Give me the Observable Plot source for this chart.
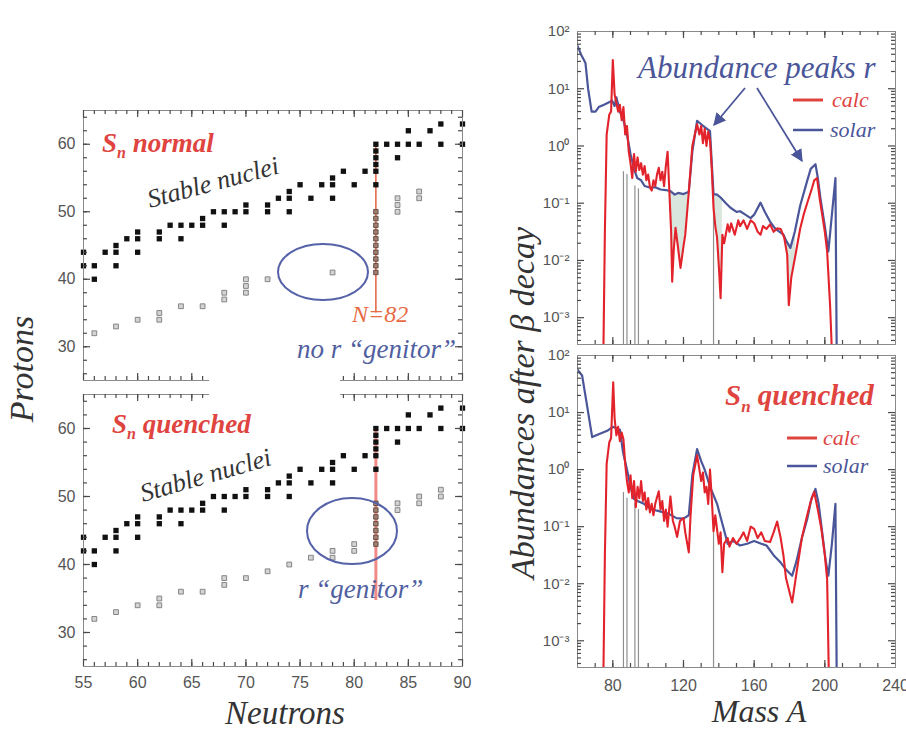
<!DOCTYPE html>
<html><head><meta charset="utf-8">
<script src="https://cdn.jsdelivr.net/npm/d3@7"></script>
<script src="https://cdn.jsdelivr.net/npm/@observablehq/plot@0.6"></script>
<style>
body{margin:0;background:#fff;}
#wrap{position:relative;width:906px;height:733px;overflow:hidden;background:#fff;}
.panel{position:absolute;}
.panel svg{overflow:visible;}
#overlay{position:absolute;left:0;top:0;pointer-events:none;}
</style></head><body><div id="wrap"></div>
<script>
// ---------- Left panels: chart of nuclides (Neutrons N, Protons Z) ----------
const stableN = [55,55,56,56,57,58,58,58,59,60,60,60,62,62,63,64,64,65,66,66,67,68,68,69,70,70,72,72,73,74,74,74,75,76,77,78,78,78,79,80,81,82,82,82,82,82,82,83,84,84,85,85,86,87,88,88,90,90];
const stableZ = [44,42,42,40,44,45,44,42,46,47,46,44,47,46,48,48,46,48,49,48,50,50,48,50,51,50,51,50,52,53,52,50,54,52,54,55,54,52,56,54,56,60,59,58,57,56,54,60,60,58,62,60,60,62,63,60,63,60];

const genNormalN = [56,58,60,62,62,64,66,68,68,70,70,70,72,78,84,84,84,86,86];
const genNormalZ = [32,33,34,35,34,36,36,38,37,40,39,38,40,41,50,51,52,52,53];
const shell82NormalZ = [41,42,43,44,45,46,47,48,49,50];

const genQuenchedN = [56,58,60,62,62,64,66,68,68,70,72,74,76,78,78,80,80,84,84,86,86,88,88];
const genQuenchedZ = [32,33,34,35,34,36,36,38,37,38,39,40,41,42,41,43,42,49,48,50,49,51,50];
const shell82QuenchedZ = [43,44,45,46,47,48,49];

const xTicksLeft = [55,60,65,70,75,80,85,90];
const yTicksLeft = [30,40,50,60];

// ---------- Right panels: abundances after beta decay, [mass A, log10 abundance] ----------
const calcNormal = [[74.5,-4],[75.5,-1.5],[76.5,0.2],[78,0.55],[79,0.6],[80,1.5],[81,0.9],[82,0.75],[83,0.6],[84,0.72],[85,0.45],[86,0.68],[87,0.2],[88,0.35],[89,-0.1],[90,-0.3],[91,-0.56],[92,-0.14],[93,-0.45],[94,-0.2],[95,-0.42],[96,-0.3],[97,-0.5],[98,-0.35],[99,-0.6],[100,-0.5],[101,-0.72],[102,-0.78],[103,-0.6],[104,-0.7],[105,-0.5],[106,-0.38],[107,-0.6],[108,-0.45],[109,-0.7],[110,-0.35],[111,-0.1],[112,-0.8],[113,-1.5],[113.6,-2.37],[114.5,-1.8],[115.5,-1.43],[117,-1.8],[118.3,-2.13],[120,-1.75],[121,-1.55],[123,-0.8],[125,0],[127.7,0.38],[129,0.2],[130,0.35],[131,0.05],[132,0.3],[133,0],[134,0.25],[135,0.1],[136,-0.4],[137,-1.08],[138,-1.4],[139,-1.6],[140,-2.1],[141,-2.66],[142,-1.55],[143,-1.7],[145,-1.37],[146,-1.5],[147,-1.35],[149,-1.55],[151,-1.3],[152,-1.4],[154,-1.3],[156,-1.45],[158,-1.3],[160,-1.35],[162,-1.5],[163.6,-1.55],[165,-1.4],[167,-1.45],[169,-1.37],[171,-1.5],[173,-1.44],[175,-1.45],[177,-1.6],[178.7,-1.9],[179.6,-2.78],[181,-2.3],[183.4,-1.9],[186,-1.45],[188,-1.2],[190,-1.0],[192.8,-0.73],[194,-0.6],[195.6,-0.56],[197,-0.9],[198.5,-1.2],[200,-1.5],[201.3,-1.84],[203,-2.8],[204.5,-4]];
const solarNormal = [[60,1.75],[62,1.6],[64.5,1.45],[66,1.0],[68,0.6],[70.2,0.6],[72,0.68],[75,0.72],[77,0.75],[79.6,0.79],[81,0.7],[82,0.85],[84,0.6],[86,0.45],[88,0.2],[90,-0.14],[92,-0.4],[93.8,-0.56],[96,-0.6],[98,-0.7],[101.3,-0.73],[104,-0.72],[107,-0.76],[110,-0.77],[112.6,-0.79],[115,-0.85],[117,-0.82],[120,-0.84],[123,-0.8],[125,-0.1],[127.7,0.44],[130,0.38],[132,0.33],[135,0.26],[136,-0.3],[137,-0.84],[139,-0.85],[141,-0.9],[144,-1.0],[146.6,-1.08],[150,-1.15],[152,-1.14],[155,-1.2],[158,-1.26],[160,-1.2],[163.6,-0.99],[166,-1.15],[169,-1.32],[172,-1.45],[176.6,-1.55],[178,-1.65],[180.5,-1.78],[183,-1.5],[186,-1.05],[190,-0.61],[192,-0.4],[194.7,-0.32],[196,-0.55],[197.5,-0.91],[200,-1.4],[202,-1.84],[204,-1.2],[206,-0.56],[206.8,-4]];
const shadeNormal = [[112.6,-0.96,-0.79,"a"],[113.6,-2.3,-0.8,"a"],[115.5,-1.43,-0.82,"a"],[118.3,-2.1,-0.83,"a"],[121,-1.55,-0.84,"a"],[123,-0.8,-0.8,"a"],[137,-1.08,-0.84,"b"],[139,-1.6,-0.85,"b"],[141,-2.6,-0.9,"b"],[142,-1.55,-0.95,"b"],[176.6,-1.55,-1.55,"c"],[178.7,-1.9,-1.65,"c"],[179.6,-2.78,-1.75,"c"],[181,-2.3,-1.7,"c"],[183.4,-1.9,-1.5,"c"]];
const grayNormal = [[86,-0.45],[88,-0.5],[92.5,-0.7],[94.5,-0.75],[137,-0.85]];

const calcQuenched = [[74.5,-4],[75.5,-1.5],[76.5,0.1],[78,0.48],[79,0.55],[80.2,1.53],[81,0.9],[82,0.6],[83,0.75],[84,0.5],[85,0.65],[86,0.53],[87,0.1],[88,-0.2],[89,-0.4],[90,-0.1],[91,-0.5],[92,-0.2],[93,-0.66],[94,-0.3],[95,-0.5],[96,-0.2],[97,-0.55],[98,-0.4],[99,-0.7],[100,-0.5],[101,-0.75],[102,-0.6],[103,-0.8],[104,-0.6],[106,-0.38],[107,-0.7],[108,-0.55],[109,-0.9],[110,-0.7],[111,-1.0],[112.6,-0.47],[114,-0.9],[115,-1.0],[116.4,-1.18],[118,-0.9],[120,-0.85],[121,-1.1],[123,-1.45],[124,-0.8],[125.5,-0.1],[127.7,0.25],[129,0.0],[130,-0.2],[131,-0.05],[132,-0.4],[133,-0.3],[134,-0.6],[135,0.0],[136,-0.5],[137,-1.08],[138,-0.8],[140,-1.3],[141,-1.1],[142,-1.8],[143,-1.3],[145,-1.2],[146,-1.35],[148,-1.2],[150,-1.3],[152,-1.21],[154,-1.1],[156,-1.25],[158,-1.0],[160,-1.04],[162,-1.2],[164,-1.1],[166,-1.25],[169,-1.27],[171,-1.1],[173,-0.91],[175,-1.2],[176.6,-1.51],[178,-1.9],[181.5,-2.33],[184,-1.8],[187,-1.2],[190,-0.8],[192,-0.56],[194,-0.39],[196,-0.7],[198,-1.03],[200,-1.5],[201.3,-1.92],[202.5,-4]];
const solarQuenched = [[60,1.75],[62.6,1.65],[65,1.2],[68.3,0.57],[72,0.62],[76.8,0.68],[80,0.75],[84,0.7],[85.8,0.3],[88,0.0],[90,-0.3],[91.9,-0.51],[94,-0.55],[97.6,-0.6],[101,-0.68],[105,-0.72],[108.9,-0.75],[112,-0.78],[116,-0.85],[120,-0.86],[123,-0.8],[125,-0.1],[127.7,0.36],[130,0.15],[132,0.0],[135,-0.3],[137,-0.45],[139,-0.6],[142,-0.95],[145,-1.3],[148,-1.25],[152,-1.33],[156,-1.3],[160,-1.25],[164,-1.3],[167,-1.33],[171,-1.5],[175,-1.63],[178,-1.75],[181.5,-1.86],[184,-1.6],[187,-1.2],[190,-0.87],[192.5,-0.5],[194.7,-0.34],[196.5,-0.6],[198.5,-1.1],[200.5,-1.6],[202,-1.86],[204,-1.3],[206,-0.6],[206.8,-4]];
const grayQuenched = [[86,-0.4],[88,-0.5],[92.5,-0.6],[94.5,-0.7],[137,-0.85]];

const xTicksRight = [80,120,160,200,240];
const decades = [1e-3,1e-2,1e-1,1,10,100];

// ---------- helpers ----------
const serif = "'Liberation Serif','DejaVu Serif',serif";
const sans = "'Liberation Sans',Arial,sans-serif";
const wrap = document.getElementById("wrap");
function place(svg, left, top) {
  const d = document.createElement("div");
  d.className = "panel"; d.style.left = left + "px"; d.style.top = top + "px";
  d.appendChild(svg); wrap.appendChild(d);
}
const tickStroke = "#4a4a4a";
// inward ticks on both horizontal edges / both vertical edges of the frame
function ticksX(ticks, size, innerH) {
  return [
    Plot.tickX(ticks, {x: d => d, insetTop: innerH - size, stroke: tickStroke, strokeWidth: 1.2}),
    Plot.tickX(ticks, {x: d => d, insetBottom: innerH - size, stroke: tickStroke, strokeWidth: 1.2})
  ];
}
function ticksY(ticks, size, innerW) {
  return [
    Plot.tickY(ticks, {y: d => d, insetRight: innerW - size, stroke: tickStroke, strokeWidth: 1.2}),
    Plot.tickY(ticks, {y: d => d, insetLeft: innerW - size, stroke: tickStroke, strokeWidth: 1.2})
  ];
}

function leftPanel({genN, genZ, shellZ, lineFrom, lineColor, lineWidth, height, mt, mb, showX}) {
  const W = 470, ml = 83, mr = 8, innerW = W - ml - mr, innerH = height - mt - mb;
  const stable = stableN.map((n, i) => ({n, z: stableZ[i]}));
  const gen = genN.map((n, i) => ({n, z: genZ[i]}));
  const shell = shellZ.map(z => ({n: 82, z}));
  const marks = [
    Plot.ruleX([{n: 82, z1: lineFrom, z2: 60}], {x: "n", y1: "z1", y2: "z2", stroke: lineColor, strokeWidth: lineWidth}),
    Plot.dot(gen, {x: "n", y: "z", symbol: "square", r: 2.7, fill: "#d4d4d4", stroke: "#7a7a7a", strokeWidth: 0.9}),
    Plot.dot(shell, {x: "n", y: "z", symbol: "square", r: 2.5, fill: "#a08070", stroke: "#5e4640", strokeWidth: 0.9}),
    Plot.dot(stable, {x: "n", y: "z", symbol: "square", r: 3, fill: "#111"}),
    Plot.frame({stroke: "#8a8a8a"}),
    ...ticksX(d3.range(56, 90, 1), 4, innerH), ...ticksX(xTicksLeft, 7, innerH),
    ...ticksY(d3.range(26, 65, 2), 4, innerW), ...ticksY(yTicksLeft, 7, innerW),
    Plot.axisY({anchor: "left", ticks: yTicksLeft, tickSize: 0, tickPadding: 8, label: null, fontSize: 16, fill: "#555"})
  ];
  if (showX) marks.push(Plot.axisX({anchor: "bottom", ticks: xTicksLeft, tickSize: 0, tickPadding: 10, label: null, fontSize: 16, fill: "#555"}));
  else marks.push(Plot.axisX({anchor: "bottom", ticks: [], label: null}));
  return Plot.plot({
    width: W, height, marginLeft: ml, marginRight: mr, marginTop: mt, marginBottom: mb,
    x: {domain: [55, 90], label: null}, y: {domain: [25, 65], label: null},
    style: {fontFamily: sans, fontSize: "16px", color: "#555", background: "transparent"},
    marks
  });
}

const yMin = 3.4e-4;
const sup = {"-": "\u207B", "0": "\u2070", "1": "\u00B9", "2": "\u00B2", "3": "\u00B3"};
const supFmt = d => "10" + String(Math.round(Math.log10(d))).split("").map(c => sup[c]).join("");
const minorLog = [];
for (let k = -4; k <= 1; k++) for (let m = 2; m <= 9; m++) { const v = m * 10 ** k; if (v >= yMin && v <= 100) minorLog.push(v); }

function rightPanel({calc, solar, shade, gray, height, mt, mb, showX}) {
  const W = 426, ml = 97, mr = 11, innerW = W - ml - mr, innerH = height - mt - mb;
  const marks = [
    Plot.areaY(shade || [], {x: d => d[0], y1: d => 10 ** d[1], y2: d => 10 ** d[2], z: d => d[3], fill: "#d9e6de", clip: true}),
    Plot.ruleX(gray, {x: d => d[0], y1: () => yMin, y2: d => 10 ** d[1], stroke: "#8f8f8f", strokeWidth: 1.2}),
    Plot.line(solar, {x: d => d[0], y: d => 10 ** d[1], stroke: "#4a5699", strokeWidth: 2.2, clip: true}),
    Plot.line(calc, {x: d => d[0], y: d => 10 ** d[1], stroke: "#e3232b", strokeWidth: 2.1, clip: true}),
    Plot.frame({stroke: "#8a8a8a"}),
    ...ticksX(d3.range(70, 240, 10), 4, innerH), ...ticksX(xTicksRight.slice(0, 4), 7, innerH),
    ...ticksY(minorLog, 4, innerW), ...ticksY(decades.slice(0, 5), 7, innerW),
    Plot.axisY({anchor: "left", ticks: decades, tickFormat: supFmt, tickSize: 0, tickPadding: 8, label: null, fontSize: 15, fill: "#555"})
  ];
  if (showX) marks.push(Plot.axisX({anchor: "bottom", ticks: xTicksRight, tickSize: 0, tickPadding: 12, label: null, fontSize: 16, fill: "#555"}));
  else marks.push(Plot.axisX({anchor: "bottom", ticks: [], label: null}));
  return Plot.plot({
    width: W, height, marginLeft: ml, marginRight: mr, marginTop: mt, marginBottom: mb,
    x: {domain: [60, 240], label: null}, y: {type: "log", domain: [yMin, 100], label: null},
    style: {fontFamily: sans, fontSize: "15px", color: "#555", background: "transparent"},
    marks
  });
}

place(leftPanel({genN: genNormalN, genZ: genNormalZ, shellZ: shell82NormalZ, lineFrom: 35, lineColor: "#e4603e", lineWidth: 1.5, height: 290, mt: 10, mb: 10, showX: false}), 0, 100);
place(leftPanel({genN: genQuenchedN, genZ: genQuenchedZ, shellZ: shell82QuenchedZ, lineFrom: 34.7, lineColor: "#f08a86", lineWidth: 3, height: 320, mt: 14, mb: 34, showX: true}), 0, 380);
place(rightPanel({calc: calcNormal, solar: solarNormal, shade: shadeNormal, gray: grayNormal, height: 360, mt: 31, mb: 16, showX: false}), 480, 0);
place(rightPanel({calc: calcQuenched, solar: solarQuenched, shade: null, gray: grayQuenched, height: 388, mt: 10, mb: 66, showX: true}), 480, 345);

// ---------- annotations overlay ----------
const red = "#e0443f", blue = "#4a5699";
const ov = `
<svg id="overlay" width="906" height="733" xmlns="http://www.w3.org/2000/svg">
  <defs><marker id="ah" viewBox="0 0 10 10" refX="9" refY="5" markerWidth="7" markerHeight="7" orient="auto-start-reverse">
    <path d="M0,0 L10,5 L0,10 z" fill="${blue}"/></marker></defs>
  <rect x="209" y="373" width="131" height="28" fill="#fff"/>
  <ellipse cx="323" cy="272" rx="45" ry="28" fill="none" stroke="#5562a8" stroke-width="2"/>
  <ellipse cx="352" cy="531" rx="45" ry="33" fill="none" stroke="#5562a8" stroke-width="2"/>
  <g font-family="${serif}" font-style="italic">
    <text transform="translate(33,369) rotate(-90)" text-anchor="middle" font-size="34" fill="#333">Protons</text>
    <text x="285" y="724" text-anchor="middle" font-size="33" fill="#333">Neutrons</text>
    <text transform="translate(534,403) rotate(-90)" text-anchor="middle" font-size="34" fill="#333">Abundances after \u03B2 decay</text>
    <text x="759" y="722" text-anchor="middle" font-size="32" fill="#333">Mass A</text>
    <text x="102" y="152" font-size="27" font-weight="bold" fill="${red}">S<tspan font-size="16" dy="6">n</tspan><tspan dy="-6"> normal</tspan></text>
    <text x="112" y="433" font-size="27" font-weight="bold" fill="${red}">S<tspan font-size="16" dy="6">n</tspan><tspan dy="-6"> quenched</tspan></text>
    <text transform="translate(150,208) rotate(-15)" font-size="26" fill="#333">Stable nuclei</text>
    <text transform="translate(143,502) rotate(-16)" font-size="26" fill="#333">Stable nuclei</text>
    <text x="352" y="322" font-size="24" fill="#e86a44">N=82</text>
    <text x="297" y="358" font-size="27" fill="#5060a0">no r \u201Cgenitor\u201D</text>
    <text x="298" y="598" font-size="27" fill="#5060a0">r \u201Cgenitor\u201D</text>
    <text x="638" y="78" font-size="31" fill="${blue}">Abundance peaks r</text>
    <text x="832" y="107" font-size="22" fill="${red}">calc</text>
    <text x="830" y="137" font-size="22" fill="${blue}">solar</text>
    <text x="725" y="405" font-size="29" font-weight="bold" fill="${red}">S<tspan font-size="17" dy="7">n</tspan><tspan dy="-7"> quenched</tspan></text>
    <text x="823" y="445" font-size="22" fill="${red}">calc</text>
    <text x="823" y="473" font-size="22" fill="${blue}">solar</text>
  </g>
  <line x1="793" y1="100" x2="823" y2="100" stroke="${red}" stroke-width="3"/>
  <line x1="793" y1="130" x2="823" y2="130" stroke="${blue}" stroke-width="2.5"/>
  <line x1="787" y1="438" x2="817" y2="438" stroke="${red}" stroke-width="3"/>
  <line x1="787" y1="466" x2="817" y2="466" stroke="${blue}" stroke-width="2.5"/>
  <line x1="745" y1="88" x2="714" y2="125" stroke="${blue}" stroke-width="1.8" marker-end="url(#ah)"/>
  <line x1="757" y1="88" x2="802" y2="161" stroke="${blue}" stroke-width="1.8" marker-end="url(#ah)"/>
</svg>`;
wrap.insertAdjacentHTML("beforeend", ov);
</script>
</body></html>
